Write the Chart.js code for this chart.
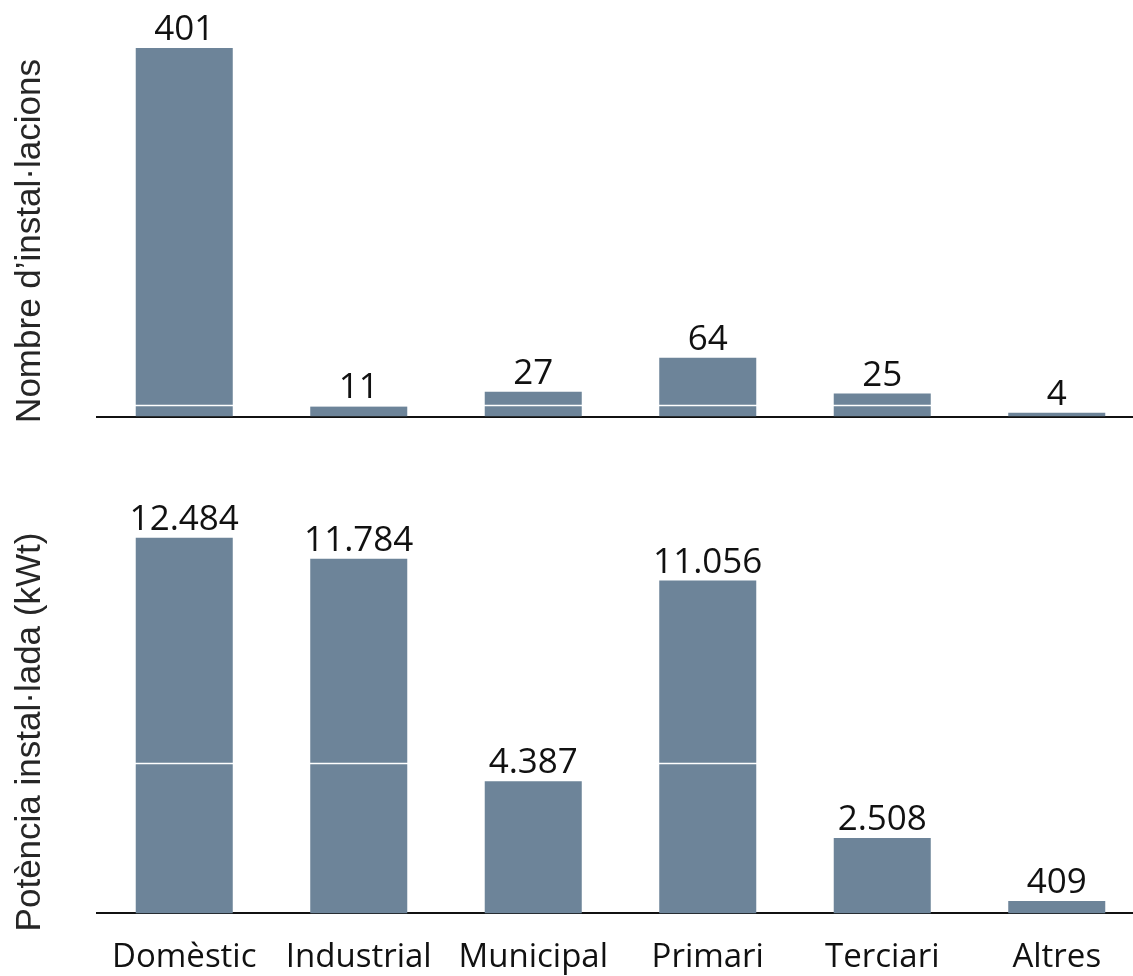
<!DOCTYPE html>
<html>
<head>
<meta charset="utf-8">
<script src="https://cdn.jsdelivr.net/npm/chart.js@4"></script>
<style>
  html, body { margin: 0; padding: 0; background: #fff; overflow: hidden; }
  #wrap { position: relative; width: 1133px; height: 976px; overflow: hidden; }
  canvas { position: absolute; left: 0; }
  #top { top: 0; }
  #bottom { top: 440px; }
</style>
</head>
<body>
<div id="wrap">
  <canvas id="top" width="1150" height="440"></canvas>
  <canvas id="bottom" width="1150" height="560"></canvas>
</div>
<script>
const categories = ['Domèstic', 'Industrial', 'Municipal', 'Primari', 'Terciari', 'Altres'];
const installations = [401, 11, 27, 64, 25, 4];
const power = [12484, 11784, 4387, 11056, 2508, 409];

const barColor = '#6d8499';

// 12484 -> "12.484"
const fmt = v => String(v).replace(/\B(?=(\d{3})+(?!\d))/g, '.');

// value labels above each bar + white reference line over the bars
const valueLabels = {
  id: 'valueLabels',
  afterDatasetsDraw(chart, args, opts) {
    const ctx = chart.ctx;
    const area = chart.chartArea;
    const yPix = Math.round(chart.scales.y.getPixelForValue(opts.gridAt)) + 0.5;
    ctx.save();
    ctx.strokeStyle = '#ffffff';
    ctx.lineWidth = 1.5;
    ctx.beginPath();
    ctx.moveTo(area.left, yPix);
    ctx.lineTo(area.right, yPix);
    ctx.stroke();

    const meta = chart.getDatasetMeta(0);
    ctx.font = '35px "Open Sans"';
    ctx.fillStyle = '#111';
    ctx.textAlign = 'center';
    ctx.textBaseline = 'alphabetic';
    meta.data.forEach((bar, i) => {
      ctx.fillText(fmt(chart.data.datasets[0].data[i]), bar.x, bar.y - 8);
    });
    ctx.restore();
  }
};

// rotated side title
const sideTitle = {
  id: 'sideTitle',
  afterDraw(chart, args, opts) {
    const ctx = chart.ctx;
    ctx.save();
    ctx.translate(opts.x, opts.y);
    ctx.rotate(-Math.PI / 2);
    ctx.font = '35px "Liberation Sans"';
    ctx.fillStyle = '#262626';
    ctx.textAlign = 'center';
    ctx.textBaseline = 'middle';
    ctx.fillText(opts.text, 0, 0);
    ctx.restore();
  }
};

function makeChart(id, values, yMax, gridAt, showLabels, padding, title) {
  return new Chart(document.getElementById(id), {
    type: 'bar',
    data: {
      labels: categories,
      datasets: [{
        data: values,
        backgroundColor: barColor,
        barPercentage: 0.556,
        categoryPercentage: 1
      }]
    },
    options: {
      responsive: false,
      animation: false,
      layout: { padding: padding },
      plugins: {
        legend: { display: false },
        tooltip: { enabled: false },
        valueLabels: { gridAt: gridAt },
        sideTitle: title
      },
      scales: {
        x: {
          z: 1,
          grid: { display: false },
          border: { display: true, color: '#111', width: 2 },
          ticks: {
            display: showLabels,
            color: '#111',
            padding: 16,
            font: { family: 'Open Sans', size: 33 }
          }
        },
        y: {
          display: false,
          min: 0,
          max: yMax
        }
      }
    },
    plugins: [valueLabels, sideTitle]
  });
}

makeChart('top', installations, 450, 13, false,
  { left: 97, right: 6, top: 3, bottom: 15.5 },
  { text: 'Nombre d\u2019instal\u00b7lacions', x: 30, y: 241 });

makeChart('bottom', power, 14000, 5000, true,
  { left: 97, right: 6, top: 52, bottom: 7 },
  { text: 'Pot\u00e8ncia instal\u00b7lada (kWt)', x: 30, y: 292 });
</script>
</body>
</html>
